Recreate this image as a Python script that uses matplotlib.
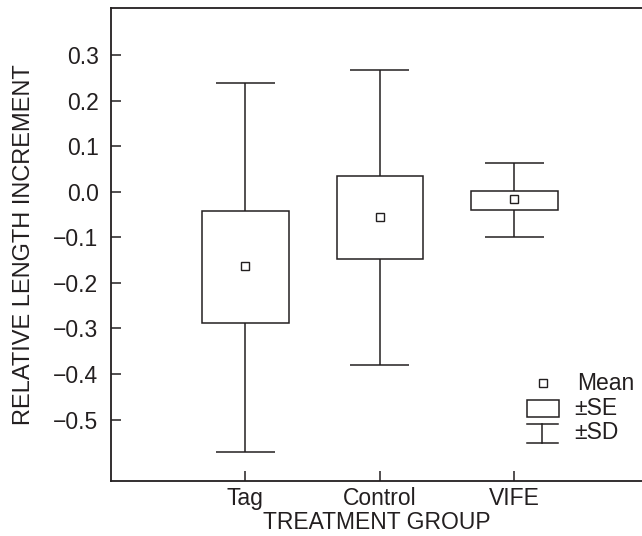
import matplotlib
matplotlib.use('Agg')
import matplotlib.pyplot as plt
import numpy as np

plt.rcParams['font.family'] = ['Liberation Sans', 'DejaVu Sans']

# values
groups = ['Tag', 'Control', 'VIFE']
means = [-0.163, -0.056, -0.016]
se_hi = [-0.043, 0.034, 0.003]
se_lo = [-0.287, -0.147, -0.040]
sd_hi = [0.240, 0.268, 0.063]
sd_lo = [-0.571, -0.380, -0.100]
yticks = [0.3, 0.2, 0.1, 0.0, -0.1, -0.2, -0.3, -0.4, -0.5]

col = '#231f20'
fs = 16.5
fig = plt.figure(figsize=(6.42, 5.36), dpi=100)
ax = fig.add_axes([111/642, 1-481/536, 531/642, 473/536])

x = np.arange(1, len(groups)+1)
se_hi = np.array(se_hi); se_lo = np.array(se_lo)
sd_hi = np.array(sd_hi); sd_lo = np.array(sd_lo)

ax.bar(x, se_hi-se_lo, bottom=se_lo, width=0.645, fill=False, edgecolor=col, linewidth=1.1, zorder=2)
ax.vlines(x, se_hi, sd_hi, color=col, linewidth=1.1)
ax.vlines(x, sd_lo, se_lo, color=col, linewidth=1.1)
ax.hlines(sd_hi, x-0.22, x+0.22, color=col, linewidth=1.1)
ax.hlines(sd_lo, x-0.22, x+0.22, color=col, linewidth=1.1)
ax.plot(x, means, 's', ms=5.5, mfc='white', mec=col, mew=1.0, linestyle='none', zorder=3)

ax.set_xlim(0, 3.95)
ax.set_ylim(-0.635, 0.404)
ax.set_xticks(x)
ax.set_xticklabels(groups)
ax.set_yticks(yticks)
ax.set_yticklabels(['%.1f' % v if v >= 0 else '\u2212%.1f' % abs(v) for v in yticks])
ax.tick_params(direction='in', length=7, width=1.1, color=col, labelsize=fs, labelcolor=col)
ax.tick_params(axis='y', pad=9)
ax.tick_params(axis='x', pad=4)
for s in ['left', 'top', 'bottom']:
    ax.spines[s].set_color(col)
    ax.spines[s].set_linewidth(1.3)
ax.spines['right'].set_visible(False)
ax.set_xlabel('TREATMENT GROUP', fontsize=fs, color=col, labelpad=1)
ax.set_ylabel('RELATIVE LENGTH INCREMENT', fontsize=17, color=col, labelpad=13)

# legend key
t = ax.transAxes
ax.plot([0.8136], [0.2072], 's', ms=5.5, mfc='white', mec=col, mew=1.0, transform=t)
ax.add_patch(plt.Rectangle((0.7834, 0.1353), 0.0603, 0.0359, fill=False, edgecolor=col, linewidth=1.1, transform=t))
ax.plot([0.7834, 0.8418], [0.1205, 0.1205], color=col, lw=1.1, transform=t)
ax.plot([0.7834, 0.8418], [0.0803, 0.0803], color=col, lw=1.1, transform=t)
ax.plot([0.8126, 0.8126], [0.0803, 0.1205], color=col, lw=1.1, transform=t)
ax.text(0.8776, 0.207, 'Mean', transform=t, fontsize=fs, color=col, va='center')
ax.text(0.8720, 0.1543, '\u00b1SE', transform=t, fontsize=fs, color=col, va='center')
ax.text(0.8720, 0.1015, '\u00b1SD', transform=t, fontsize=fs, color=col, va='center')

fig.savefig('out.png', dpi=100)
